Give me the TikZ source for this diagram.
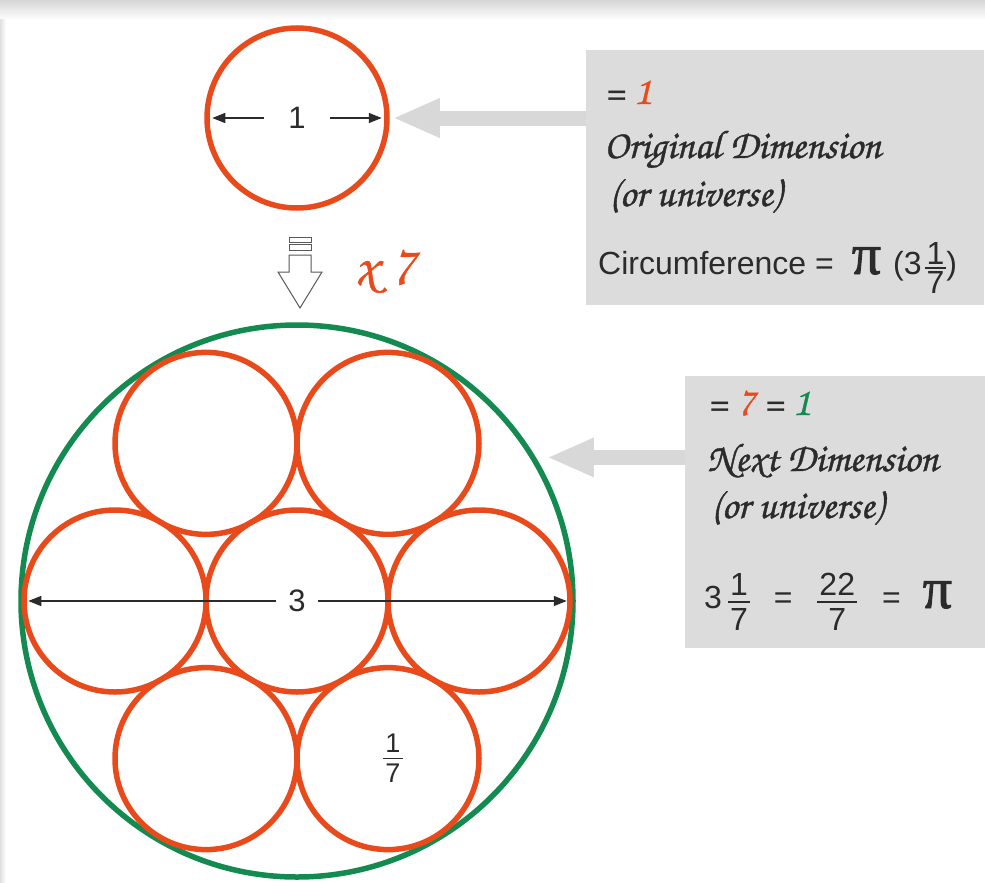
\documentclass[tikz,border=0pt]{standalone}
\usepackage[T1]{fontenc}
\usepackage{fontspec}
\setmainfont{Liberation Sans}
\newfontfamily\pifont{Liberation Serif}
\usetikzlibrary{arrows.meta,calc,positioning}
\definecolor{ringorange}{HTML}{E84A1B}
\definecolor{ringgreen}{HTML}{138A4F}
\definecolor{boxgray}{HTML}{DCDCDC}
\definecolor{arrowgray}{HTML}{D8D8D8}
\definecolor{inkdark}{HTML}{2B2B2B}
\newcommand{\handfont}{\fontencoding{T1}\fontfamily{pzc}\fontseries{mb}\fontshape{it}\selectfont}
% stacked fraction in the text font
\newcommand{\fr}[3][6pt]{\ensuremath{\vcenter{\offinterlineskip
  \halign{\hfil\kern2pt##\kern2pt\hfil\cr #2\cr
    \noalign{\kern#1\hrule height1.5pt\kern#1}#3\cr}}}}
\newcommand{\bigpi}{{\special{pdf:literal direct 2 Tr 0.9 w}\pifont\fontsize{58}{58}\selectfont π\special{pdf:literal direct 0 Tr}}}

\begin{document}
\begin{tikzpicture}[x=1pt,y=-1pt,
  ring/.style={circle,draw=ringorange,line width=5.5pt,minimum size=182pt,inner sep=0pt},
  dimline/.style={inkdark,line width=1.5pt,{Triangle[length=13pt,width=10pt]}-{Triangle[length=13pt,width=10pt]}},
  pointer/.style={arrowgray,line width=15pt,-{Triangle[length=45pt,width=40pt,line width=0pt]}},
  graybox/.style={fill=boxgray,anchor=north west,inner sep=0pt},
  sanslabel/.style={text=inkdark,font=\fontsize{31}{36}\selectfont},
  boxline/.style={anchor=base west,inner sep=0pt,text=inkdark,font=\fontsize{32}{38}\selectfont},
  handlabel/.style={anchor=base west,inner sep=0pt,text=inkdark,font=\fontsize{40}{46}\handfont,
    execute at begin node={\special{pdf:literal direct 2 Tr 0.4 w}},
    execute at end node={\special{pdf:literal direct 0 Tr}}}]

\useasboundingbox (0,0) rectangle (985,883);

% Sheet with a soft shadow
\fill[white] (0,0) rectangle (985,883);
\shade[top color=black!16,bottom color=white] (0,0) rectangle (985,20);
\shade[left color=black!12,right color=white] (0,20) rectangle (6,883);

% ===== ORIGINAL DIMENSION =====
\node[ring,minimum size=180pt] (small) at (297,118) {};
\draw[dimline,shorten <=8pt,shorten >=8pt] (small.west)
  -- node[fill=white,sanslabel,inner xsep=24pt,inner ysep=2pt] (one) {1} (small.east);

% Hollow arrow down
\draw[black!65,line width=1pt,fill=white] (289,237) rectangle (311,242);
\draw[black!65,line width=1pt,fill=white] (289,244) rectangle (311,250);
\draw[black!65,line width=1pt,fill=white] (289,255) -- (311,255) -- (311,272) -- (322,272)
  -- (300,308) -- (278,272) -- (289,272) -- cycle;
\node[handlabel,text=ringorange,font=\fontsize{56}{60}\handfont] (times) at (354,284) {x 7};

% ===== NEXT DIMENSION =====
\node[circle,draw=ringgreen,line width=5.5pt,minimum size=552pt,inner sep=0pt] (big) at (297,601) {};
\node[ring] (o0) at (big) {};
\foreach \a [count=\i] in {0,60,...,300}
  \node[ring] (o\i) at ($(big)+(\a:182)$) {};
\draw[dimline,shorten <=7pt,shorten >=6pt] (o4.west)
  -- node[fill=white,sanslabel,inner xsep=12pt,inner ysep=2pt] (three) {3} (o1.east);
\node[sanslabel,font=\fontsize{27}{30}\selectfont] (seventh) at ($(o2)+(5,0)$) {\fr[5pt]{1}{7}};

% ===== NOTE BOXES =====
\node[graybox,minimum width=398pt,minimum height=255pt] (box1) at (586,50) {};
\node[graybox,minimum width=300pt,minimum height=272pt] (box2) at (685,376) {};

\draw[pointer,shorten >=5pt] (box1.west |- small.center) -- (small.east);
\draw[pointer,shorten >=13pt] (box2.west |- big.31) -- (big.31);

% Box texts
\node[handlabel] (eqone) at (604,104) {= \textcolor{ringorange}{1}};
\node[handlabel] (orig) at (604,158) {Original Dimension};
\node[handlabel] (uniA) at (609,206) {(or universe)};
\node[boxline] (circ) at (598,274)
  {Circumference =\hspace{18pt}\bigpi\hspace{12pt}(3\hspace{3pt}\fr[3pt]{1}{7})};

\node[handlabel] (eqseven) at (707,415) {= \textcolor{ringorange}{7} = \textcolor{ringgreen}{1}};
\node[handlabel] (next) at (707,471) {Next Dimension};
\node[handlabel] (uniB) at (711,518) {(or universe)};
\node[boxline] (pieq) at (704,608)
  {3\hspace{6pt}\fr{1}{7}\hspace{24pt}=\hspace{25pt}\fr{22}{7}\hspace{25pt}=\hspace{22pt}\bigpi};

\end{tikzpicture}
\end{document}
